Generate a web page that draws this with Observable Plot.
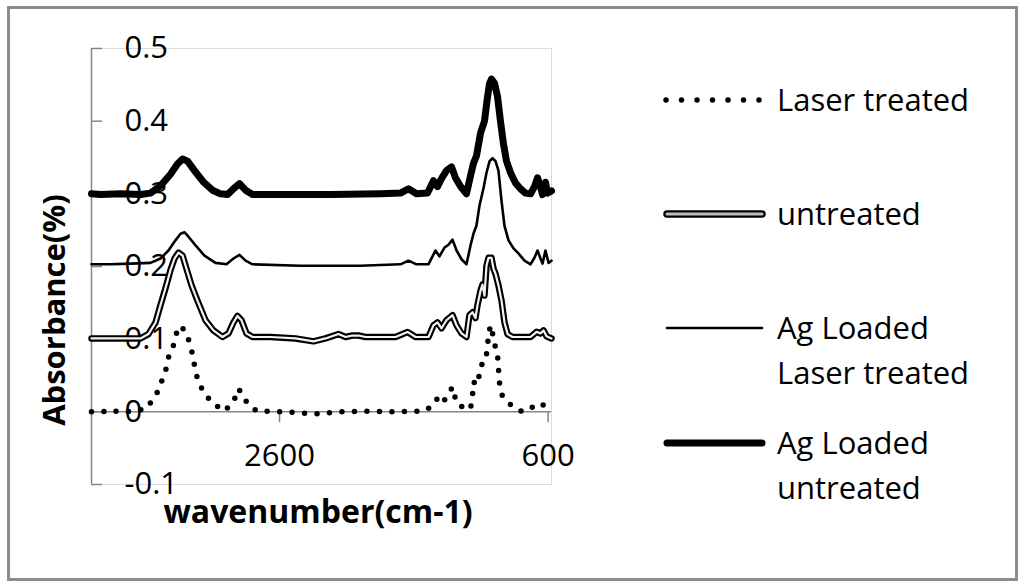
<!DOCTYPE html>
<html>
<head>
<meta charset="utf-8">
<script src="https://cdn.jsdelivr.net/npm/d3@7"></script>
<script src="https://cdn.jsdelivr.net/npm/@observablehq/plot@0.6"></script>
<style>
  body { margin: 0; background: #fff; font-family: "Open Sans", sans-serif; }
  #wrap { position: relative; width: 1024px; height: 587px; overflow: hidden; background: #fff; }
  #border { position: absolute; left: 7px; top: 6px; width: 1005px; height: 569px; border: 3px solid #8c8c8c; }
  #chart { position: absolute; left: 0; top: 0; }
  #ov { position: absolute; left: 0; top: 0; }
</style>
</head>
<body>
<div id="wrap">
  <div id="border"></div>
  <div id="chart"></div>
  <svg id="ov" width="1024" height="587" font-family="Open Sans, sans-serif"></svg>
</div>
<script>
// ---- data (wavenumber in cm-1, absorbance) ----
const seriesNames = ["Laser treated", "untreated", "Ag Loaded\nLaser treated", "Ag Loaded\nuntreated"];
const xTicks = [2600, 600];
const yTicks = [-0.1, 0, 0.1, 0.2, 0.3, 0.4, 0.5];
const xTitle = "wavenumber(cm-1)";
const yTitle = "Absorbance(%)";

const wnLaser = [4000,3918,3859,3821,3762,3687,3598,3523,3486,3449,3427,3382,3360,3330,3285,3255,3233,3211,3166,3099,3010,2943,2905,2846,2771,2556,2347,2146,1960,1759,1565,1528,1461,1416,1379,1342,1312,1282,1215,1178,1163,1156,1126,1111,1089,1066,1051,1044,1022,1007,977,970,962,940,880,791,709,657,597];
const absLaser = [0.000,0.000,0.003,0.001,0.000,0.001,0.004,0.021,0.038,0.056,0.075,0.095,0.114,0.118,0.104,0.085,0.064,0.045,0.027,0.012,0.001,0.014,0.032,0.014,0.001,0.000,-0.003,0.000,0.001,0.000,0.001,0.001,0.008,0.021,0.014,0.025,0.034,0.012,0.004,0.004,0.023,0.041,0.037,0.053,0.068,0.071,0.089,0.110,0.119,0.099,0.079,0.060,0.040,0.021,0.010,0.000,0.007,0.012,0.004];

const wnUntreated = [4000,3784,3635,3576,3523,3486,3449,3412,3382,3352,3322,3293,3255,3211,3151,3092,3025,2980,2943,2913,2883,2846,2801,2667,2481,2347,2258,2161,2109,2057,2012,1960,1736,1647,1587,1491,1454,1424,1394,1357,1312,1282,1245,1208,1186,1163,1141,1126,1103,1089,1074,1059,1044,1022,1007,992,970,947,925,902,865,731,687,657,634,612,575];
const absUntreated = [0.101,0.101,0.101,0.107,0.123,0.147,0.170,0.195,0.211,0.219,0.215,0.197,0.174,0.153,0.126,0.112,0.103,0.108,0.123,0.132,0.126,0.108,0.103,0.103,0.101,0.097,0.101,0.107,0.103,0.105,0.105,0.103,0.103,0.110,0.103,0.103,0.119,0.123,0.115,0.126,0.133,0.119,0.108,0.103,0.133,0.137,0.129,0.147,0.167,0.175,0.160,0.201,0.212,0.212,0.197,0.190,0.174,0.153,0.123,0.107,0.103,0.103,0.110,0.108,0.112,0.104,0.101];

const wnAgLaser = [4000,3859,3710,3561,3486,3427,3375,3337,3307,3278,3225,3159,3077,2995,2943,2898,2853,2801,2444,1997,1699,1640,1580,1491,1439,1409,1372,1342,1312,1282,1245,1208,1178,1156,1134,1111,1081,1059,1036,1014,992,970,947,925,895,858,821,776,731,702,679,657,642,620,597,575];
const absAgLaser = [0.203,0.203,0.204,0.205,0.211,0.222,0.236,0.245,0.247,0.241,0.229,0.215,0.205,0.203,0.211,0.216,0.208,0.203,0.201,0.201,0.203,0.208,0.203,0.203,0.222,0.214,0.226,0.230,0.237,0.222,0.210,0.203,0.229,0.245,0.256,0.284,0.308,0.329,0.345,0.349,0.345,0.332,0.290,0.256,0.236,0.225,0.218,0.208,0.203,0.212,0.222,0.211,0.204,0.222,0.205,0.208];

const wnAgUntreated = [4000,3933,3784,3635,3561,3486,3412,3360,3322,3285,3233,3166,3099,3040,2987,2943,2898,2853,2801,2593,2220,1848,1699,1640,1580,1498,1454,1424,1394,1357,1319,1290,1252,1208,1178,1156,1134,1103,1074,1051,1036,1022,999,977,955,932,910,880,843,806,769,731,702,679,657,642,620,605,575];
const absAgUntreated = [0.300,0.299,0.300,0.299,0.301,0.311,0.327,0.341,0.348,0.345,0.332,0.316,0.305,0.300,0.299,0.307,0.314,0.305,0.299,0.299,0.299,0.300,0.301,0.307,0.300,0.301,0.318,0.310,0.321,0.332,0.337,0.322,0.310,0.300,0.325,0.342,0.352,0.384,0.400,0.434,0.452,0.458,0.452,0.434,0.400,0.368,0.345,0.329,0.315,0.307,0.301,0.300,0.310,0.322,0.310,0.299,0.316,0.301,0.304];

const toRows = (wn, ab) => wn.map((w, i) => ({wn: w, abs: ab[i]}));
const laser = toRows(wnLaser, absLaser);
const untreated = toRows(wnUntreated, absUntreated);
const agLaser = toRows(wnAgLaser, absAgLaser);
const agUntreated = toRows(wnAgUntreated, absAgUntreated);

const axisGray = "#868686";
const fmt = d => String(d);

const chart = Plot.plot({
  width: 1024,
  height: 587,
  marginLeft: 91,
  marginRight: 473,
  marginTop: 48,
  marginBottom: 103,
  x: {domain: [4000, 575]},
  y: {domain: [-0.1, 0.5]},
  style: {fontFamily: "Open Sans, sans-serif", fontSize: "31px", color: "#000", background: "transparent", overflow: "visible"},
  marks: [
    Plot.frame({stroke: "#dcdcdc", strokeWidth: 1}),
    Plot.ruleY([0], {stroke: axisGray, strokeWidth: 1.5}),
    Plot.ruleX([4000], {stroke: axisGray, strokeWidth: 1.5}),
    Plot.tickY(yTicks, {y: d => d, stroke: axisGray, strokeWidth: 1.5, insetRight: 449}),
    Plot.ruleX(xTicks, {x: d => d, y1: 0, y2: 0, insetBottom: -11, stroke: axisGray, strokeWidth: 1.5}),
    Plot.axisY(yTicks, {anchor: "left", tickSize: 0, tickPadding: 0, textAnchor: "start", dx: 33, tickFormat: fmt, fontSize: 31, label: null, fill: "#000"}),
    Plot.axisX(xTicks, {anchor: "bottom", tickSize: 0, tickPadding: 0, dy: -41, tickFormat: fmt, fontSize: 31, label: null, fill: "#000"}),
    Plot.line(laser, {x: "wn", y: "abs", stroke: "#000", strokeWidth: 5.5, strokeDasharray: "0 12.5", strokeLinecap: "round"}),
    Plot.line(untreated, {x: "wn", y: "abs", stroke: "#000", strokeWidth: 6.5}),
    Plot.line(untreated, {x: "wn", y: "abs", stroke: "#f2f2f2", strokeWidth: 2.2}),
    Plot.line(agLaser, {x: "wn", y: "abs", stroke: "#000", strokeWidth: 2.6}),
    Plot.line(agUntreated, {x: "wn", y: "abs", stroke: "#000", strokeWidth: 7})
  ]
});
document.getElementById("chart").appendChild(chart);

// ---- overlay: axis titles and legend ----
const ov = d3.select("#ov");
ov.append("text").attr("x", 318).attr("y", 523).attr("text-anchor", "middle")
  .attr("font-weight", "bold").attr("font-size", 32).text(xTitle);
ov.append("text").attr("transform", "translate(65,310) rotate(-90)").attr("text-anchor", "middle")
  .attr("font-weight", "bold").attr("font-size", 31).text(yTitle);

const legendY = [100, 214, 328, 443];
const legendStyles = [
  [{w: 5.5, c: "#000", dash: "0 15.5"}],
  [{w: 7.5, c: "#000"}, {w: 3, c: "#bdbdbd"}],
  [{w: 2.6, c: "#000"}],
  [{w: 7, c: "#000"}]
];
seriesNames.forEach((name, i) => {
  const y = legendY[i];
  legendStyles[i].forEach(s => {
    const l = ov.append("line").attr("x1", 667).attr("x2", 762).attr("y1", y).attr("y2", y)
      .attr("stroke", s.c).attr("stroke-width", s.w).attr("stroke-linecap", "round");
    if (s.dash) l.attr("stroke-dasharray", s.dash).attr("x1", 666).attr("x2", 760);
  });
  name.split("\n").forEach((line, j) => {
    ov.append("text").attr("x", 777).attr("y", y + 11 + j * 45).attr("font-size", 31).text(line);
  });
});
</script>
</body>
</html>
